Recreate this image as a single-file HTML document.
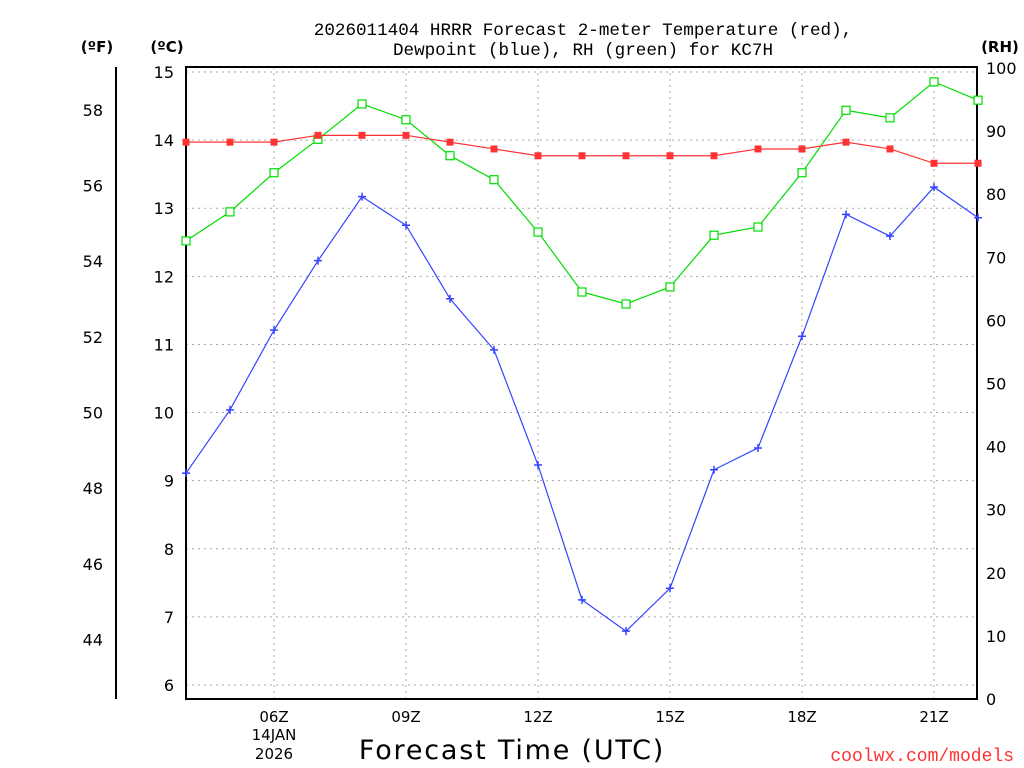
<!DOCTYPE html>
<html><head><meta charset="utf-8"><style>
body{margin:0;background:#fff;}
svg{display:block;font-family:"DejaVu Sans","Liberation Sans",sans-serif;}
</style></head><body>
<svg id="chart" width="1024" height="768">
<text x="583" y="35" text-anchor="middle" font-size="17.6" font-family="Liberation Mono, monospace">2026011404 HRRR Forecast 2-meter Temperature (red),</text>
<text x="583" y="55" text-anchor="middle" font-size="17.6" font-family="Liberation Mono, monospace">Dewpoint (blue), RH (green) for KC7H</text>
<text x="97" y="52" text-anchor="middle" font-size="15" font-weight="bold">(ºF)</text>
<text x="167" y="52" text-anchor="middle" font-size="15" font-weight="bold">(ºC)</text>
<text x="1000" y="52" text-anchor="middle" font-size="15" font-weight="bold">(RH)</text>
<text x="512" y="759" text-anchor="middle" font-size="27" letter-spacing="1.8">Forecast Time (UTC)</text>
<text x="1014" y="761" text-anchor="end" font-size="18" font-family="Liberation Mono, monospace" fill="#ff3333">coolwx.com/models</text>
<text x="274" y="740" text-anchor="middle" font-size="15">14JAN</text>
<text x="274" y="759" text-anchor="middle" font-size="15">2026</text>
<g id="grid"></g><g id="axes"></g><g id="series"></g>
</svg>
<script>
const hours=[4,5,6,7,8,9,10,11,12,13,14,15,16,17,18,19,20,21,22];
const tempC=[13.97,13.97,13.97,14.07,14.07,14.07,13.97,13.87,13.77,13.77,13.77,13.77,13.77,13.87,13.87,13.97,13.87,13.66,13.66];
const dewC=[9.11,10.04,11.21,12.23,13.17,12.75,11.67,10.92,9.23,7.25,6.79,7.42,9.16,9.48,11.12,12.91,12.59,13.31,12.86];
const rh=[72.6,77.2,83.4,88.7,94.3,91.8,86.1,82.3,74.0,64.5,62.6,65.3,73.5,74.8,83.4,93.3,92.1,97.8,94.9];
const cTicks=[6,7,8,9,10,11,12,13,14,15];
const fTicks=[44,46,48,50,52,54,56,58];
const rhTicks=[0,10,20,30,40,50,60,70,80,90,100];
const xTickHours=[6,9,12,15,18,21];
const xTickLabels=["06Z","09Z","12Z","15Z","18Z","21Z"];
const NS="http://www.w3.org/2000/svg";
const L=186,R=977,T=67,B=699;
const x=h=>L+(h-4)*44;
const yC=c=>72+(15-c)*68.11;
const yF=f=>yC((f-32)*5/9);
const yR=r=>B-r*6.31;
function mk(tag,attrs,parent,text){const e=document.createElementNS(NS,tag);for(const k in attrs)e.setAttribute(k,attrs[k]);if(text!==undefined)e.textContent=text;document.getElementById(parent).appendChild(e);return e;}
cTicks.forEach(c=>{
 const g=mk('line',{x1:L,x2:R,y1:yC(c),y2:yC(c),stroke:'#aaa','stroke-dasharray':'2,4'},'grid');
 
 
 const t=mk('text',{x:174,y:yC(c)+6,'text-anchor':'end','font-size':16},'axes',c);
 
 
});
fTicks.forEach(f=>{
 const t=mk('text',{x:103,y:yF(f)+6,'text-anchor':'end','font-size':16},'axes',f);
 
 
});
rhTicks.forEach(r=>{
 const t=mk('text',{x:986,y:yR(r)+6,'font-size':16},'axes',r);
 
 
});
xTickHours.forEach((h,i)=>{
 const g=mk('line',{x1:x(h),x2:x(h),y1:T,y2:B,stroke:'#aaa','stroke-dasharray':'2,4'},'grid');
 
 
 const t=mk('text',{x:x(h),y:722,'text-anchor':'middle','font-size':15},'axes',xTickLabels[i]);
 
 
});
const fr=mk('rect',{x:L,y:T,width:R-L,height:B-T,fill:'none',stroke:'#000','stroke-width':2},'axes');


const fa=mk('line',{x1:116,x2:116,y1:T,y2:B,stroke:'#000','stroke-width':2},'axes');


function series(vals,yf,color,name,marker){
 const pts=hours.map((h,i)=>x(h)+','+yf(vals[i])).join(' ');
 const p=mk('polyline',{points:pts,fill:'none',stroke:color,'stroke-width':1.2},'series');
 
 
 hours.forEach((h,i)=>{
  const cx=x(h),cy=yf(vals[i]);let m;
  if(marker==='fill')m=mk('rect',{x:cx-3.5,y:cy-3.5,width:7,height:7,fill:color},'series');
  else if(marker==='open')m=mk('rect',{x:cx-4,y:cy-4,width:8,height:8,fill:'#fff',stroke:color,'stroke-width':1.2},'series');
  else m=mk('path',{d:`M${cx-4},${cy}H${cx+4}M${cx},${cy-4}V${cy+4}`,stroke:color,'stroke-width':1.5},'series');
  
  
 });
}
series(rh,yR,'#00dd00','rh','open');
series(tempC,yC,'#ff3333','temperature','fill');
series(dewC,yC,'#3344ff','dewpoint','plus');
</script>
</body></html>
